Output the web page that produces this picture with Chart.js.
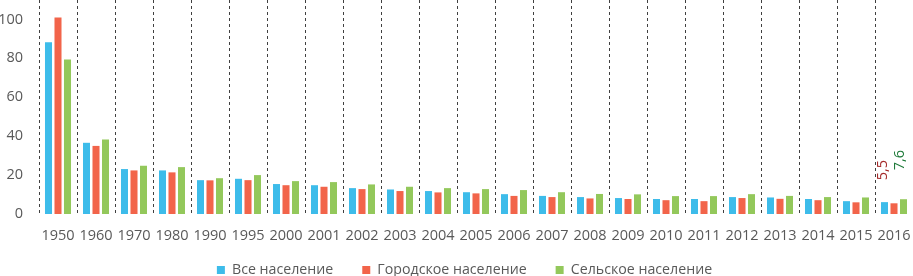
<!DOCTYPE html>
<html>
<head>
<meta charset="utf-8">
<script src="https://cdn.jsdelivr.net/npm/chart.js@4"></script>
<style>
  html, body { margin: 0; padding: 0; background: #fff; }
  #wrap { width: 913px; height: 276px; position: relative; }
</style>
</head>
<body>
<div id="wrap"><canvas id="chart"></canvas></div>
<script>
const years = ['1950', '1960', '1970', '1980', '1990', '1995', '2000', '2001', '2002', '2003', '2004', '2005',
    '2006', '2007', '2008', '2009', '2010', '2011', '2012', '2013', '2014', '2015', '2016'];

const allPopulation = [88.3, 36.6, 23.1, 22.4, 17.4, 18.1, 15.4, 14.8, 13.3, 12.6, 11.8, 11.2,
    10.2, 9.3, 8.7, 8.2, 7.7, 7.7, 8.7, 8.5, 7.7, 6.6, 6.1];
const urbanPopulation = [101, 35, 22.4, 21.4, 17.3, 17.4, 14.8, 14.0, 12.8, 11.8, 11.1, 10.6,
    9.3, 8.7, 8.0, 7.7, 7.1, 6.6, 8.2, 7.8, 7.1, 6.0, 5.5];
const ruralPopulation = [79.4, 38.3, 24.8, 24.1, 18.4, 20.0, 16.9, 16.4, 15.2, 14.0, 13.3, 12.8,
    12.3, 11.2, 10.3, 10.1, 9.2, 9.2, 10.2, 9.3, 8.7, 8.5, 7.6];

const seriesNames = ['Все население', 'Городское население', 'Сельское население'];
const yTicks = [0, 20, 40, 60, 80, 100];

const FONT = "'Open Sans', sans-serif";
const GREY = '#595959';

// rotated value labels above the last red and green bars
const lastValueLabels = {
    id: 'lastValueLabels',
    afterDatasetsDraw(chart, args, opts) {
        const ctx = chart.ctx;
        opts.items.forEach(item => {
            const meta = chart.getDatasetMeta(item.dataset);
            const idx = meta.data.length - 1;
            const bar = meta.data[idx];
            const value = chart.data.datasets[item.dataset].data[idx];
            ctx.save();
            ctx.translate(bar.x + item.dx, bar.y - item.gap);
            ctx.rotate(-Math.PI / 2);
            ctx.font = '14.5px ' + FONT;
            ctx.fillStyle = item.color;
            ctx.textAlign = 'left';
            ctx.textBaseline = 'middle';
            ctx.fillText(String(value).replace('.', ','), 0, 0);
            ctx.restore();
        });
    }
};

// legend box overlaps the bottom of the x axis box, as in the original
const legendShift = {
    id: 'legendShift',
    afterLayout(chart, args, opts) {
        if (chart.legend) {
            chart.legend.top += opts.dy;
            chart.legend.bottom += opts.dy;
            chart.legend.left += opts.dx;
            chart.legend.right += opts.dx;
        }
    }
};

new Chart(document.getElementById('chart'), {
    type: 'bar',
    data: {
        labels: years,
        datasets: [
            { label: seriesNames[0], data: allPopulation, backgroundColor: '#3DBCEA' },
            { label: seriesNames[1], data: urbanPopulation, backgroundColor: '#F2644A' },
            { label: seriesNames[2], data: ruralPopulation, backgroundColor: '#93C85B' }
        ]
    },
    options: {
        responsive: true,
        maintainAspectRatio: false,
        animation: false,
        datasets: {
            bar: { categoryPercentage: 0.75, barPercentage: 0.74 }
        },
        layout: { padding: { top: 0, right: 0, left: 0, bottom: -21.2 } },
        scales: {
            x: {
                offset: true,
                grid: { display: true, offset: true, color: '#404040', lineWidth: 1, drawTicks: false },
                border: { display: false, dash: [3, 3] },
                ticks: { color: GREY, font: { family: FONT, size: 14.5 }, padding: 13, maxRotation: 0, autoSkip: false },
                afterFit: axis => {
                    axis.height = 30;
                    axis.paddingLeft = 0;
                    axis.paddingRight = 0;
                }
            },
            y: {
                min: 0,
                max: 110,
                grid: { display: false, drawTicks: false },
                border: { display: false },
                ticks: {
                    stepSize: 20,
                    includeBounds: false,
                    color: GREY,
                    font: { family: FONT, size: 14.5 },
                    padding: 16
                },
                afterBuildTicks: axis => { axis.ticks = yTicks.map(v => ({ value: v })); },
                afterFit: axis => {
                    axis.width = 39;
                    axis.paddingTop = 0;
                    axis.paddingBottom = 0;
                }
            }
        },
        plugins: {
            legend: {
                position: 'bottom',
                labels: {
                    color: GREY,
                    font: { family: FONT, size: 14.2 },
                    boxWidth: 8,
                    boxHeight: 8,
                    padding: 29
                }
            },
            tooltip: { enabled: false },
            legendShift: { dy: -10, dx: 8 },
            lastValueLabels: {
                items: [
                    { dataset: 1, dx: -11, gap: 23, color: '#A52A2A' },
                    { dataset: 2, dx: -4, gap: 29, color: '#1F7A3A' }
                ]
            }
        }
    },
    plugins: [lastValueLabels, legendShift]
});
</script>
</body>
</html>
